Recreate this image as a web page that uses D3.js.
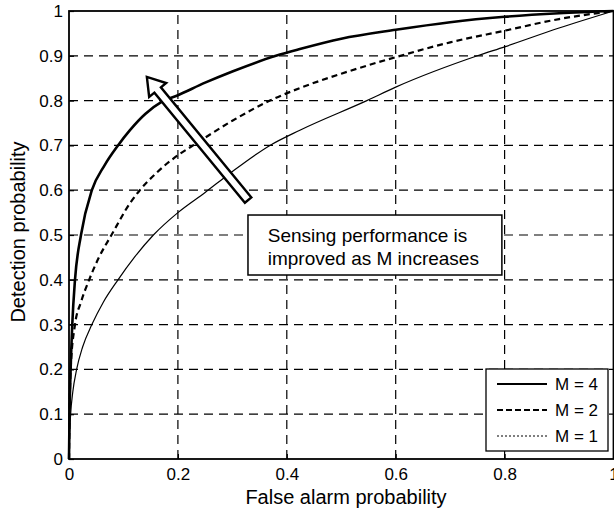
<!DOCTYPE html>
<html>
<head>
<meta charset="utf-8">
<script src="https://cdn.jsdelivr.net/npm/d3@7"></script>
<style>
body{margin:0;background:#fff;}
text{font-family:"Liberation Sans",Arial,sans-serif;fill:#000;}
.grid line{stroke:#000;stroke-width:1.2;stroke-dasharray:9,6;}
</style>
</head>
<body>
<div id="chart"></div>
<script>
//ROC curves
var m4Pfa=[0,0.001,0.003,0.006,0.011,0.022,0.042,0.065,0.09,0.112,0.14,0.17,0.2,0.25,0.3,0.38,0.424,0.5,0.6,0.7,0.8,0.9,1];
var m4Pd=[0,0.1,0.2,0.3,0.4,0.5,0.6,0.655,0.7,0.734,0.77,0.797,0.812,0.84,0.865,0.9,0.915,0.938,0.958,0.975,0.987,0.995,1];
var m2Pfa=[0,0.001,0.003,0.011,0.022,0.037,0.055,0.078,0.112,0.13,0.16,0.2,0.228,0.3,0.369,0.424,0.5,0.6,0.7,0.8,0.9,1];
var m2Pd=[0,0.1,0.2,0.3,0.35,0.4,0.45,0.5,0.571,0.6,0.638,0.678,0.7,0.755,0.8,0.828,0.86,0.897,0.93,0.956,0.982,1];
var m1Pfa=[0,0.001,0.003,0.007,0.014,0.025,0.042,0.063,0.09,0.12,0.155,0.2,0.25,0.296,0.369,0.424,0.547,0.6,0.75,0.8,0.9,1];
var m1Pd=[0,0.05,0.1,0.15,0.2,0.25,0.3,0.35,0.4,0.45,0.5,0.55,0.595,0.638,0.7,0.734,0.8,0.83,0.9,0.92,0.962,1];
var xTicks=[0,0.2,0.4,0.6,0.8,1];
var yTicks=[0,0.1,0.2,0.3,0.4,0.5,0.6,0.7,0.8,0.9,1];
var legendLabels=["M = 4","M = 2","M = 1"];
var noteLines=["Sensing performance is","improved as M increases"];

var width=614,height=512;
var svg=d3.select("#chart").append("svg").attr("width",width).attr("height",height);
var x=d3.scaleLinear().domain([0,1]).range([69,613.5]);
var y=d3.scaleLinear().domain([0,1]).range([459,11]);

//dashed grid
var grid=svg.append("g").attr("class","grid");
grid.selectAll("line.v").data(xTicks.slice(1,-1)).enter().append("line")
	.attr("x1",function(d){return x(d);}).attr("x2",function(d){return x(d);})
	.attr("y1",y(0)).attr("y2",y(1));
grid.selectAll("line.h").data(yTicks.slice(1,-1)).enter().append("line")
	.attr("x1",x(0)).attr("x2",x(1))
	.attr("y1",function(d){return y(d);}).attr("y2",function(d){return y(d);});

//axes, ticks inside like matlab
var xAxis=d3.axisBottom(x).tickValues(xTicks).tickSize(-5).tickPadding(6).tickFormat(d3.format("~g"));
var yAxis=d3.axisLeft(y).tickValues(yTicks).tickSize(-5).tickPadding(6).tickFormat(d3.format("~g"));
var gx=svg.append("g").attr("transform","translate(0,"+y(0)+")").call(xAxis);
var gy=svg.append("g").attr("transform","translate("+x(0)+",0)").call(yAxis);
[gx,gy].forEach(function(g){
	g.select(".domain").remove();
	g.selectAll(".tick line").attr("stroke","#000").attr("stroke-width",1.2);
	g.selectAll("text").attr("font-size","17px").attr("font-family","'Liberation Sans',Arial,sans-serif");
});
gx.selectAll("text").attr("dy","0.9em");

//frame
svg.append("rect").attr("x",x(0)).attr("y",y(1)).attr("width",x(1)-x(0)).attr("height",y(0)-y(1))
	.attr("fill","none").attr("stroke","#000").attr("stroke-width",1.8);

//curves
var series=[
	{pfa:m4Pfa,pd:m4Pd,w:2.6,dash:null},
	{pfa:m2Pfa,pd:m2Pd,w:2.2,dash:"6,4"},
	{pfa:m1Pfa,pd:m1Pd,w:1.2,dash:null}
];
var line=d3.line().x(function(d){return x(d[0]);}).y(function(d){return y(d[1]);}).curve(d3.curveMonotoneX);
svg.selectAll("path.roc").data(series).enter().append("path")
	.attr("class","roc")
	.attr("d",function(s){return line(d3.zip(s.pfa,s.pd));})
	.attr("fill","none").attr("stroke","#000")
	.attr("stroke-width",function(s){return s.w;})
	.attr("stroke-dasharray",function(s){return s.dash;});

//hollow arrow (tail and tip in data units)
var tail=[x(0.329),y(0.578)],tip=[x(0.143),y(0.853)];
var dx=tip[0]-tail[0],dy=tip[1]-tail[1],len=Math.sqrt(dx*dx+dy*dy);
var ux=dx/len,uy=dy/len,px=-uy,py=ux;
var sw=4.2,hw=11,hl=17;
function pt(a,b){return [tail[0]+ux*a+px*b,tail[1]+uy*a+py*b];}
var arrowPts=[pt(0,sw),pt(len-hl,sw),pt(len-hl,hw),pt(len,0),pt(len-hl,-hw),pt(len-hl,-sw),pt(0,-sw)];
svg.append("polygon").attr("points",arrowPts.map(function(p){return p.join(",");}).join(" "))
	.attr("fill","#fff").attr("stroke","#000").attr("stroke-width",2.4).attr("stroke-linejoin","miter");

//annotation box
svg.append("rect").attr("x",x(0.3287)).attr("y",y(0.5446))
	.attr("width",x(0.795)-x(0.3287)).attr("height",y(0.4107)-y(0.5446))
	.attr("fill","#fff").attr("stroke","#000").attr("stroke-width",1.5);
svg.selectAll("text.note").data(noteLines).enter().append("text")
	.attr("class","note")
	.attr("x",x(0.365)).attr("y",function(d,i){return 241.5+i*23.5;})
	.attr("font-size","19px").text(function(d){return d;});

//legend
var leg=svg.append("g").attr("transform","translate(486,369)");
leg.append("rect").attr("width",122).attr("height",82).attr("fill","#fff").attr("stroke","#000").attr("stroke-width",1.3);
var legDash=[null,"6,3","2,2"],legW=[2.2,2.2,1.2];
legendLabels.forEach(function(lab,i){
	var yy=15+i*26;
	leg.append("line").attr("x1",11).attr("x2",61).attr("y1",yy).attr("y2",yy)
		.attr("stroke","#000").attr("stroke-width",legW[i]).attr("stroke-dasharray",legDash[i]);
	leg.append("text").attr("x",69).attr("y",yy).attr("dy","0.36em").attr("font-size","17px").text(lab);
});

//axis titles
svg.append("text").attr("x",346).attr("y",504).attr("text-anchor","middle").attr("font-size","20px").text("False alarm probability");
svg.append("text").attr("transform","translate(25,232) rotate(-90)").attr("text-anchor","middle").attr("font-size","20px").text("Detection probability");
</script>
</body>
</html>
